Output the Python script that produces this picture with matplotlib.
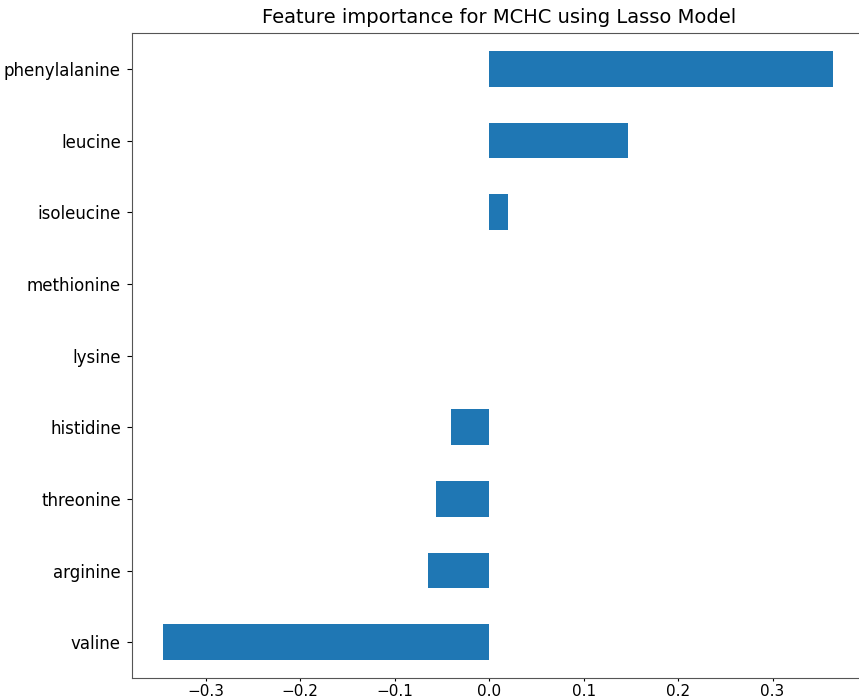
import matplotlib
matplotlib.use("Agg")
import matplotlib.pyplot as plt
import numpy as np

features = ["valine", "arginine", "threonine", "histidine", "lysine",
            "methionine", "isoleucine", "leucine", "phenylalanine"]
coefs = [-0.345, -0.0645, -0.056, -0.040, 0.0, 0.0, 0.020, 0.147, 0.364]
xticks = [-0.3, -0.2, -0.1, 0.0, 0.1, 0.2, 0.3]

fig = plt.figure(figsize=(8.59, 6.99), dpi=100)
ax = fig.add_axes([132 / 859, 21 / 699, 735 / 859, 645 / 699])

y = np.arange(len(features))
ax.barh(y, coefs, height=0.5, color="#1f77b4")
ax.set_yticks(y)
ax.set_yticklabels(features, fontsize=12)
ax.set_ylim(-0.5, len(features) - 0.5)
ax.set_xticks(xticks)
ax.set_xticklabels([f"{t:.1f}".replace("-", "\u2212") for t in xticks], fontsize=11)
ax.set_xlim(-0.378, 0.400)
ax.tick_params(axis="y", length=3.5, pad=4.5)
ax.tick_params(axis="x", length=2.5, pad=1.5)
for s in ax.spines.values():
    s.set_color("#555555")
ax.set_title("Feature importance for MCHC using Lasso Model", fontsize=14, pad=7)

fig.savefig("out.png", dpi=100)
